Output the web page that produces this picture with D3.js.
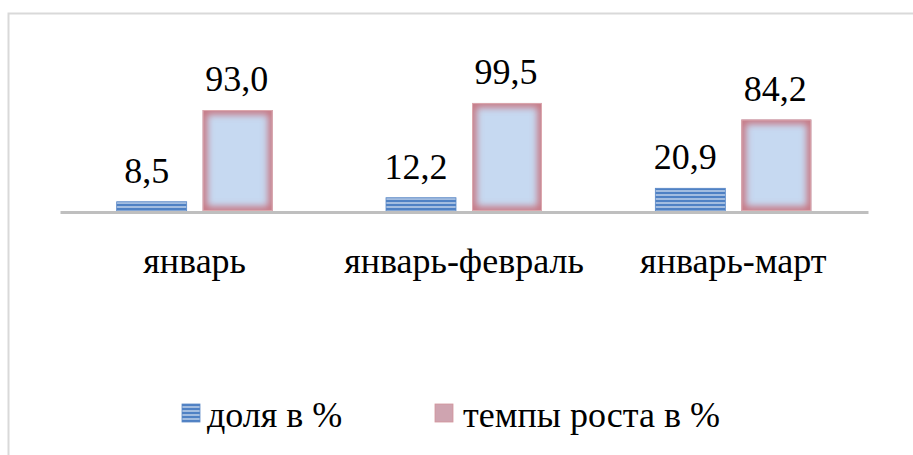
<!DOCTYPE html>
<html>
<head>
<meta charset="utf-8">
<script src="https://cdn.jsdelivr.net/npm/d3@7"></script>
</head>
<body style="margin:0">
<div id="chart" style="position:relative;width:913px;height:455px;font-family:'Liberation Serif','Tinos','Times New Roman';font-size:36px;color:#000">
<svg width="913" height="455" style="position:absolute;left:0;top:0"></svg>
</div>
<script>
const svg = d3.select('svg');
const chart = d3.select('#chart');

// data
const categories = ['январь', 'январь-февраль', 'январь-март'];
const seriesNames = ['доля в %', 'темпы роста в %'];
const share = [8.5, 12.2, 20.9];
const growth = [93.0, 99.5, 84.2];

const PLOT = { LEFT: 60, RIGHT: 868, BASE: 211 };

const bars = [];
categories.forEach((c, gi) => {
  bars.push({ cat: c, key: seriesNames[0], value: share[gi], i: 0, gi });
  bars.push({ cat: c, key: seriesNames[1], value: growth[gi], i: 1, gi });
});

// chart frame (only top & left edge visible)
svg.append('rect')
  .attr('x', 8.5).attr('y', 13.5)
  .attr('width', 1000).attr('height', 1000)
  .attr('fill', 'none')
  .attr('stroke', '#d9d9d9')
  .attr('stroke-width', 2);

// defs: striped blue, red inner glow
const defs = svg.append('defs');
const stripes = defs.append('pattern')
  .attr('id', 'stripes')
  .attr('patternUnits', 'userSpaceOnUse')
  .attr('width', 8).attr('height', 4);
stripes.append('rect').attr('width', 8).attr('height', 4).attr('fill', '#a3bde0');
stripes.append('rect').attr('width', 8).attr('height', 2).attr('fill', '#4f81c4');

defs.append('filter')
  .attr('id', 'blur')
  .attr('x', '-20%').attr('y', '-20%').attr('width', '140%').attr('height', '140%')
  .append('feGaussianBlur')
  .attr('stdDeviation', 3.5);

// scales
const x0 = d3.scaleBand().domain(categories).range([PLOT.LEFT, PLOT.RIGHT]);
const x1 = d3.scaleBand().domain(seriesNames).range([-78, 78]).paddingInner(0.186);
const y = d3.scaleLinear().domain([0, 100]).range([PLOT.BASE, PLOT.BASE - 108.6]);
const bx = d => x0(d.cat) + x0.bandwidth() / 2 + x1(d.key);

const fmt = v => d3.format('.1f')(v).replace('.', ',');

// blue striped bars
svg.selectAll('.bar-share')
  .data(bars.filter(d => d.i === 0))
  .enter()
  .append('rect')
  .attr('class', 'bar-share')
  .attr('x', bx)
  .attr('y', d => y(d.value))
  .attr('width', x1.bandwidth())
  .attr('height', d => y(0) - y(d.value))
  .attr('fill', 'url(#stripes)')
  .attr('stroke', '#5a88c6')
  .attr('stroke-width', 0.8);

// light-blue bars with red inner glow
const redData = bars.filter(d => d.i === 1);
defs.selectAll('clipPath')
  .data(redData)
  .enter()
  .append('clipPath')
  .attr('id', d => 'clip' + d.gi)
  .append('rect')
  .attr('x', bx)
  .attr('y', d => y(d.value))
  .attr('width', x1.bandwidth())
  .attr('height', d => y(0) - y(d.value));

const red = svg.selectAll('.bar-growth')
  .data(redData)
  .enter()
  .append('g')
  .attr('class', 'bar-growth');
red.append('rect')
  .attr('x', bx)
  .attr('y', d => y(d.value))
  .attr('width', x1.bandwidth())
  .attr('height', d => y(0) - y(d.value))
  .attr('fill', '#c6d9f1');
red.append('g')
  .attr('clip-path', d => `url(#clip${d.gi})`)
  .append('rect')
  .attr('x', bx)
  .attr('y', d => y(d.value))
  .attr('width', x1.bandwidth())
  .attr('height', d => y(0) - y(d.value))
  .attr('fill', 'none')
  .attr('stroke', '#c77480')
  .attr('stroke-width', 9)
  .attr('filter', 'url(#blur)');
red.append('rect')
  .attr('x', d => bx(d) + 0.5)
  .attr('y', d => y(d.value) + 0.5)
  .attr('width', x1.bandwidth() - 1)
  .attr('height', d => y(0) - y(d.value) - 1)
  .attr('fill', 'none')
  .attr('stroke', '#dca7ad')
  .attr('stroke-width', 1);

// axis line
svg.append('g')
  .attr('transform', `translate(0,${PLOT.BASE + 1})`)
  .call(d3.axisBottom(x0).tickSize(0).tickFormat(''))
  .call(g => g.select('.domain').attr('stroke', '#bfbfbf').attr('stroke-width', 3));

// HTML text labels, positioned by baseline via line-height box
// a 36px Liberation Serif line with line-height 40px has its baseline ~31px below the box top
const BASE_OFF = 31;
function label(sel, cx, by, anchor) {
  return sel
    .style('position', 'absolute')
    .style('white-space', 'nowrap')
    .style('line-height', '40px')
    .style('top', d => (by(d) - BASE_OFF) + 'px')
    .style('left', d => cx(d) + 'px')
    .style('transform', anchor === 'middle' ? 'translateX(-50%)' : null);
}

// value labels
chart.selectAll('.value')
  .data(bars)
  .enter()
  .append('div')
  .attr('class', 'value')
  .call(label, d => bx(d) + x1.bandwidth() / 2 - (d.i === 0 ? 5 : 1), d => y(d.value) - 20, 'middle')
  .text(d => fmt(d.value));

// category labels
chart.selectAll('.cat')
  .data(categories)
  .enter()
  .append('div')
  .attr('class', 'cat')
  .call(label, d => x0(d) + x0.bandwidth() / 2, () => PLOT.BASE + 61, 'middle')
  .text(d => d);

// legend
const legend = [
  { name: seriesNames[0], sx: 182, tx: 207, fill: 'url(#stripes)', stroke: '#5a88c6' },
  { name: seriesNames[1], sx: 435, tx: 463, fill: '#cfa4b0', stroke: '#d3959c' }
];
svg.selectAll('.legend-box')
  .data(legend)
  .enter()
  .append('rect')
  .attr('class', 'legend-box')
  .attr('x', d => d.sx).attr('y', 404)
  .attr('width', 18).attr('height', 18)
  .attr('fill', d => d.fill)
  .attr('stroke', d => d.stroke)
  .attr('stroke-width', 0.8);
chart.selectAll('.legend-text')
  .data(legend)
  .enter()
  .append('div')
  .attr('class', 'legend-text')
  .call(label, d => d.tx, () => 426, 'start')
  .text(d => d.name);
</script>
</body>
</html>
